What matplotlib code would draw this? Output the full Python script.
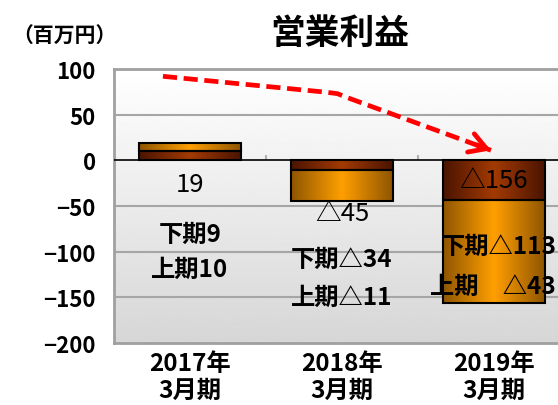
import matplotlib
matplotlib.use('Agg')
import matplotlib.pyplot as plt
import numpy as np
from matplotlib.colors import LinearSegmentedColormap

plt.rcParams['font.family'] = ['Noto Sans CJK JP', 'DejaVu Sans']
plt.rcParams['font.weight'] = 'bold'

# data (百万円)
categories = ['2017年\n3月期', '2018年\n3月期', '2019年\n3月期']
first_half = [10, -11, -43]     # 上期
second_half = [9, -34, -113]    # 下期
totals = [19, -45, -156]

yticks = [100, 50, 0, -50, -100, -150, -200]

# trend arrow path (category index, value)
arrow_x = [-0.178, 0.90, 0.97, 1.03, 1.98]
arrow_y = [92, 74.5, 73, 69, 11]


def fmt(v):
    return f'△{abs(v)}' if v < 0 else f'{v}'


fig = plt.figure(figsize=(5.58, 4.06), dpi=100)
fig.patch.set_facecolor('white')
ax = fig.add_axes([114 / 558, 1 - 344 / 406, 456 / 558, 274 / 406])

# plot area gradient
bg = np.linspace(0.84, 1.0, 256).reshape(-1, 1)
ax.imshow(bg, extent=[0, 1, 0, 1], transform=ax.transAxes, aspect='auto',
          cmap='gray', vmin=0, vmax=1, origin='lower', zorder=0)

x = np.arange(len(categories))
width = 0.67

dark_cmap = LinearSegmentedColormap.from_list('dark', ['#4a1400', '#a33a02', '#4a1400'])
orange_cmap = LinearSegmentedColormap.from_list('orange', ['#8f5500', '#ff9f00', '#8f5500'])
hgrad = np.linspace(0, 1, 256).reshape(1, -1)

bars1 = ax.bar(x, first_half, width, color='none', edgecolor='black', linewidth=1.5, zorder=3)
bars2 = ax.bar(x, second_half, width, bottom=first_half, color='none',
               edgecolor='black', linewidth=1.5, zorder=3)

for bars, cmap in [(bars1, dark_cmap), (bars2, orange_cmap)]:
    for b in bars:
        x0, y0 = b.get_x(), b.get_y()
        x1, y1 = x0 + b.get_width(), y0 + b.get_height()
        im = ax.imshow(hgrad, extent=[x0, x1, min(y0, y1), max(y0, y1)],
                       aspect='auto', cmap=cmap, zorder=2)
        im.set_clip_path(b)

ax.set_xlim(-0.5, 2.5)
ax.set_ylim(-200, 100)

for y in [50, -50, -100, -150]:
    ax.axhline(y, color='#a6a6a6', lw=1.5, zorder=1)
ax.axhline(0, color='black', lw=1.2, zorder=4)
ax.vlines([0.5, 1.5], 0, 6, color='#b0b0b0', lw=1.5, zorder=1)

for s in ax.spines.values():
    s.set_color('#a0a0a0')
    s.set_linewidth(2)

ax.set_yticks(yticks)
ax.set_yticklabels([f'{t}'.replace('-', '−') for t in yticks], fontsize=16, fontweight='bold')
ax.tick_params(axis='y', length=0, pad=13)
ax.set_xticks(x)
ax.set_xticklabels(categories, fontsize=17.5, fontweight='bold', linespacing=1.15)
ax.tick_params(axis='x', length=0, pad=6)

# value labels
total_y = [-26, -58, -22]
second_y = [-81, -108, -94]
first_y = [-119, -149, -138]
first_dx = [0, 0, -0.01]
for i in range(len(categories)):
    ax.text(x[i], total_y[i], fmt(totals[i]), ha='center', va='center',
            fontsize=18.5, fontweight='normal', zorder=5)
    ax.text(x[i] + (0.03 if i == 2 else 0), second_y[i], '下期' + fmt(second_half[i]),
            ha='center', va='center', fontsize=17.5, fontweight='bold', zorder=5)
    lab = '上期' + ('　' if i == 2 else '') + fmt(first_half[i])
    ax.text(x[i] + first_dx[i], first_y[i], lab, ha='center', va='center',
            fontsize=17.5, fontweight='bold', zorder=5)

# trend arrow
line, = ax.plot(arrow_x, arrow_y, color='#ff0000', lw=3.4, zorder=5,
                solid_capstyle='butt', dash_capstyle='butt')
line.set_dashes([3, 1.4])
dx = arrow_x[-1] - arrow_x[-2]
dy = arrow_y[-1] - arrow_y[-2]
ax.annotate('', xy=(arrow_x[-1], arrow_y[-1]),
            xytext=(arrow_x[-1] - 0.1 * dx, arrow_y[-1] - 0.1 * dy),
            arrowprops=dict(arrowstyle='->,head_length=1.2,head_width=0.7',
                            color='#ff0000', lw=3.4, shrinkA=0, shrinkB=0), zorder=5)

fig.text(340 / 558, 1 - 33 / 406, '営業利益', ha='center', va='center',
         fontsize=25, fontweight='bold')
fig.text(64 / 558, 1 - 36 / 406, '（百万円）', ha='center', va='center',
         fontsize=15, fontweight='bold')

fig.savefig('out.png', dpi=100)
